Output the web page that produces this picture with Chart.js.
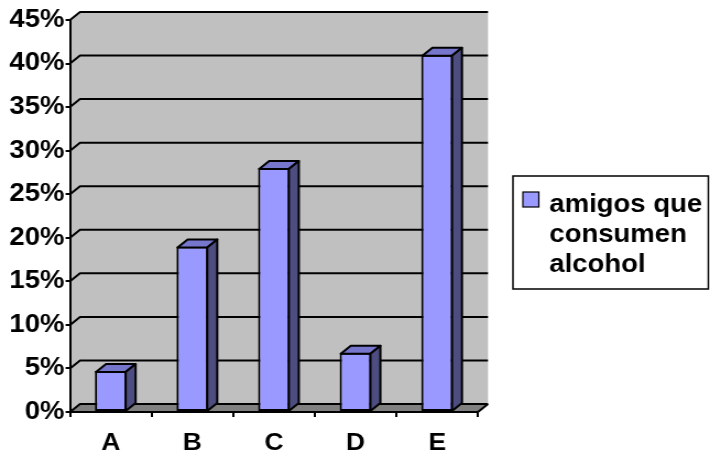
<!DOCTYPE html>
<html>
<head>
<meta charset="utf-8">
<script src="https://cdn.jsdelivr.net/npm/chart.js@4/dist/chart.umd.min.js"></script>
<style>
  html, body { margin: 0; padding: 0; background: #ffffff; }
  #chart { display: block; }
</style>
</head>
<body>
<!-- the drawing surface is 645 units wide and shown 710px wide, giving the wide lettering -->
<canvas id="chart" width="645" height="457" style="width:710px;height:457px;"></canvas>
<script>
const categories = ['A', 'B', 'C', 'D', 'E'];
const seriesName = 'amigos que consumen alcohol';
const legendLines = ['amigos que', 'consumen', 'alcohol'];
const values = [4.7, 19, 28, 6.8, 41];
const yMin = 0;
const yMax = 45;
const yStep = 5;

const FONT = "'Liberation Sans', Arial, sans-serif";
const FRONT = '#9999FF';
const TOP = '#7676CC';
const SIDE = '#4D4D80';
const WALL = '#C0C0C0';
const FLOOR = '#808080';
const DEPTH_X = 9.1;
const DEPTH_Y = 8;

// back wall, side wall, floor and the bent gridlines
const walls3d = {
  id: 'walls3d',
  beforeDraw(chart) {
    const { ctx, chartArea: a, scales } = chart;
    const y = scales.y;
    const xL = a.left, xR = a.right, yT = a.top, yB = a.bottom;
    ctx.save();
    ctx.fillStyle = WALL;
    ctx.beginPath();
    ctx.moveTo(xL, yB);
    ctx.lineTo(xL, yT);
    ctx.lineTo(xL + DEPTH_X, yT - DEPTH_Y);
    ctx.lineTo(xR + DEPTH_X, yT - DEPTH_Y);
    ctx.lineTo(xR + DEPTH_X, yB - DEPTH_Y);
    ctx.lineTo(xL + DEPTH_X, yB - DEPTH_Y);
    ctx.closePath();
    ctx.fill();

    ctx.fillStyle = FLOOR;
    ctx.beginPath();
    ctx.moveTo(xL, yB);
    ctx.lineTo(xL + DEPTH_X, yB - DEPTH_Y);
    ctx.lineTo(xR + DEPTH_X, yB - DEPTH_Y);
    ctx.lineTo(xR, yB);
    ctx.closePath();
    ctx.fill();

    ctx.strokeStyle = '#000';
    ctx.lineWidth = 2;
    ctx.lineJoin = 'round';
    for (let v = yMin; v <= yMax; v += yStep) {
      const py = y.getPixelForValue(v);
      ctx.beginPath();
      ctx.moveTo(xL, py);
      ctx.lineTo(xL + DEPTH_X, py - DEPTH_Y);
      ctx.lineTo(xR + DEPTH_X, py - DEPTH_Y);
      ctx.stroke();
    }
    ctx.beginPath();
    ctx.moveTo(xR, yB);
    ctx.lineTo(xR + DEPTH_X, yB - DEPTH_Y);
    ctx.stroke();
    ctx.restore();
  }
};

// top and right faces of each column
const columns3d = {
  id: 'columns3d',
  afterDatasetsDraw(chart) {
    const { ctx } = chart;
    const meta = chart.getDatasetMeta(0);
    ctx.save();
    ctx.strokeStyle = '#000';
    ctx.lineWidth = 2;
    ctx.lineJoin = 'round';
    meta.data.forEach((bar) => {
      const p = bar.getProps(['x', 'y', 'base', 'width'], true);
      const x1 = p.x - p.width / 2 + 1;
      const x2 = p.x + p.width / 2 - 1;
      const yT = p.y + 1;
      const yB = p.base;
      ctx.fillStyle = TOP;
      ctx.beginPath();
      ctx.moveTo(x1, yT);
      ctx.lineTo(x1 + DEPTH_X, yT - DEPTH_Y);
      ctx.lineTo(x2 + DEPTH_X, yT - DEPTH_Y);
      ctx.lineTo(x2, yT);
      ctx.closePath();
      ctx.fill();
      ctx.stroke();
      ctx.fillStyle = SIDE;
      ctx.beginPath();
      ctx.moveTo(x2, yT);
      ctx.lineTo(x2 + DEPTH_X, yT - DEPTH_Y);
      ctx.lineTo(x2 + DEPTH_X, yB - DEPTH_Y);
      ctx.lineTo(x2, yB);
      ctx.closePath();
      ctx.fill();
      ctx.stroke();
    });
    ctx.restore();
  }
};

// boxed legend with the series name over three lines
const boxLegend = {
  id: 'boxLegend',
  afterDraw(chart) {
    const { ctx } = chart;
    const bx = 466, by = 176, bw = 177.5, bh = 113;
    ctx.save();
    ctx.fillStyle = '#fff';
    ctx.fillRect(bx, by, bw, bh);
    ctx.strokeStyle = '#000';
    ctx.lineWidth = 1.5;
    ctx.strokeRect(bx, by, bw, bh);
    ctx.fillStyle = FRONT;
    ctx.fillRect(475, 192, 14.5, 15);
    ctx.lineWidth = 1.2;
    ctx.strokeRect(475, 192, 14.5, 15);
    ctx.fillStyle = '#000';
    ctx.font = 'bold 25px ' + FONT;
    ctx.textBaseline = 'alphabetic';
    ctx.textAlign = 'left';
    const baselines = [212, 242, 272];
    legendLines.forEach((t, i) => ctx.fillText(t, 499, baselines[i]));
    ctx.restore();
  }
};

new Chart(document.getElementById('chart'), {
  type: 'bar',
  data: {
    labels: categories,
    datasets: [{
      label: seriesName,
      data: values,
      backgroundColor: FRONT,
      borderColor: '#000',
      borderWidth: 2,
      borderSkipped: false,
      categoryPercentage: 1,
      barPercentage: 0.39
    }]
  },
  options: {
    responsive: false,
    devicePixelRatio: 1,
    animation: false,
    layout: { padding: { top: 20, right: 210.8, bottom: 0, left: 0 } },
    plugins: { legend: { display: false }, tooltip: { enabled: false } },
    scales: {
      x: {
        offset: true,
        grid: { offset: true, drawOnChartArea: false, drawTicks: true, tickLength: 5, color: '#000', lineWidth: 2 },
        border: { display: true, color: '#000', width: 2 },
        ticks: { color: '#000', font: { family: FONT, size: 24, weight: 'bold' }, padding: 12 },
        afterFit(scale) { scale.height = 45; }
      },
      y: {
        min: yMin,
        max: yMax,
        grid: { drawOnChartArea: false, drawTicks: true, tickLength: 4, color: '#000', lineWidth: 2 },
        border: { display: true, color: '#000', width: 2 },
        ticks: {
          stepSize: yStep,
          color: '#000',
          padding: 1,
          font: { family: FONT, size: 25, weight: 'bold' },
          callback: (v) => v + '%'
        },
        afterFit(scale) { scale.width = 63.6; }
      }
    }
  },
  plugins: [walls3d, columns3d, boxLegend]
});
</script>
</body>
</html>
